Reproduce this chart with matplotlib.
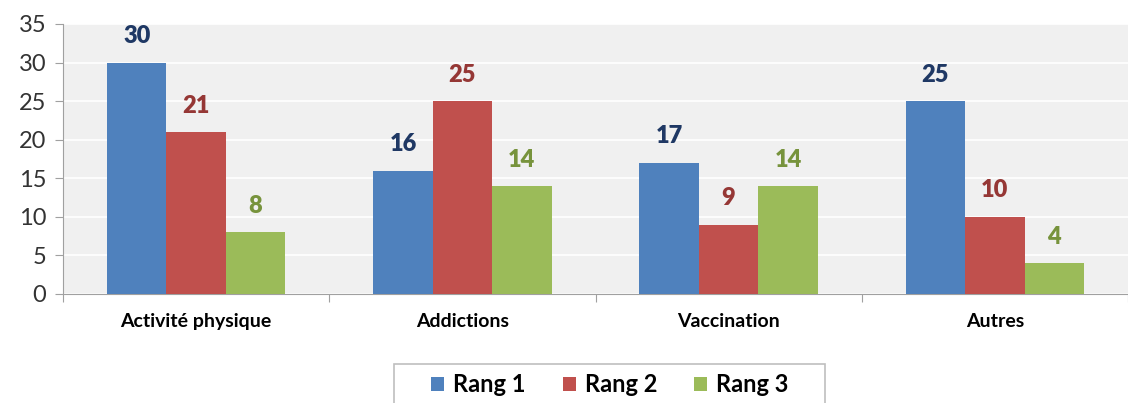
import numpy as np
import matplotlib.pyplot as plt
from matplotlib.patches import Rectangle

categories = ["Activité physique", "Addictions", "Vaccination", "Autres"]
rang1 = [30, 16, 17, 25]
rang2 = [21, 25, 9, 10]
rang3 = [8, 14, 14, 4]
series_names = ["Rang 1", "Rang 2", "Rang 3"]

colors = ["#4F81BD", "#C0504D", "#9BBB59"]
label_colors = ["#1F3864", "#953735", "#77933C"]

plt.rcParams['font.family'] = ['Lato', 'DejaVu Sans']

fig = plt.figure(figsize=(11.28, 4.03), dpi=100)
ax = fig.add_axes([63 / 1128, 1 - 294 / 403, 1 - 63 / 1128, (294 - 24) / 403])
ax.set_facecolor("#F0F0F0")

# one category = ~269 px, one bar = 60 px
cat_px = 268.7
x = np.arange(len(categories))
w = 60 / cat_px
for i, (vals, name) in enumerate(zip([rang1, rang2, rang3], series_names)):
    pos = x + (i - 1) * w
    ax.bar(pos, vals, width=w, color=colors[i], label=name, zorder=3)
    for p, v in zip(pos, vals):
        ax.text(p, v + 2.0, str(v), ha="center", va="bottom", fontsize=17,
                fontweight="heavy", color=label_colors[i])

ax.set_ylim(0, 35)
ax.set_yticks(range(0, 36, 5))
ax.set_xlim(-0.5, -0.5 + (1128 - 63) / cat_px)
ax.yaxis.grid(True, color="white", linewidth=1.2, zorder=0)
ax.set_axisbelow(True)

ax.set_xticks(np.arange(-0.5, 4, 1), minor=False)
ax.set_xticklabels([])
ax.set_xticks(x, minor=True)
ax.set_xticklabels(categories, minor=True, fontsize=14, fontweight="bold")
ax.tick_params(axis="x", which="minor", length=0, pad=14)
ax.tick_params(axis="x", which="major", length=6, color="#A0A0A0", direction="out")
ax.tick_params(axis="y", length=6, color="#A0A0A0", labelsize=17, labelcolor="#333333", pad=6)

for s in ["top", "right"]:
    ax.spines[s].set_visible(False)
for s in ["left", "bottom"]:
    ax.spines[s].set_color("#A0A0A0")

# legend box wider than its content, like the Excel one
fig.patches.append(Rectangle((394 / 1128, -0.05), (825 - 394) / 1128, 0.05 + 1 - 364 / 403,
                             transform=fig.transFigure, facecolor="white",
                             edgecolor="#BFBFBF", linewidth=1.2))
leg = fig.legend(loc="center left", bbox_to_anchor=(431 / 1128, 1 - 385 / 403), ncol=3,
                 frameon=False, prop={"weight": "bold", "size": 17},
                 handlelength=0.55, handleheight=0.55, handletextpad=0.4,
                 columnspacing=1.55, borderpad=0, borderaxespad=0)

fig.savefig("out.png", dpi=100)
